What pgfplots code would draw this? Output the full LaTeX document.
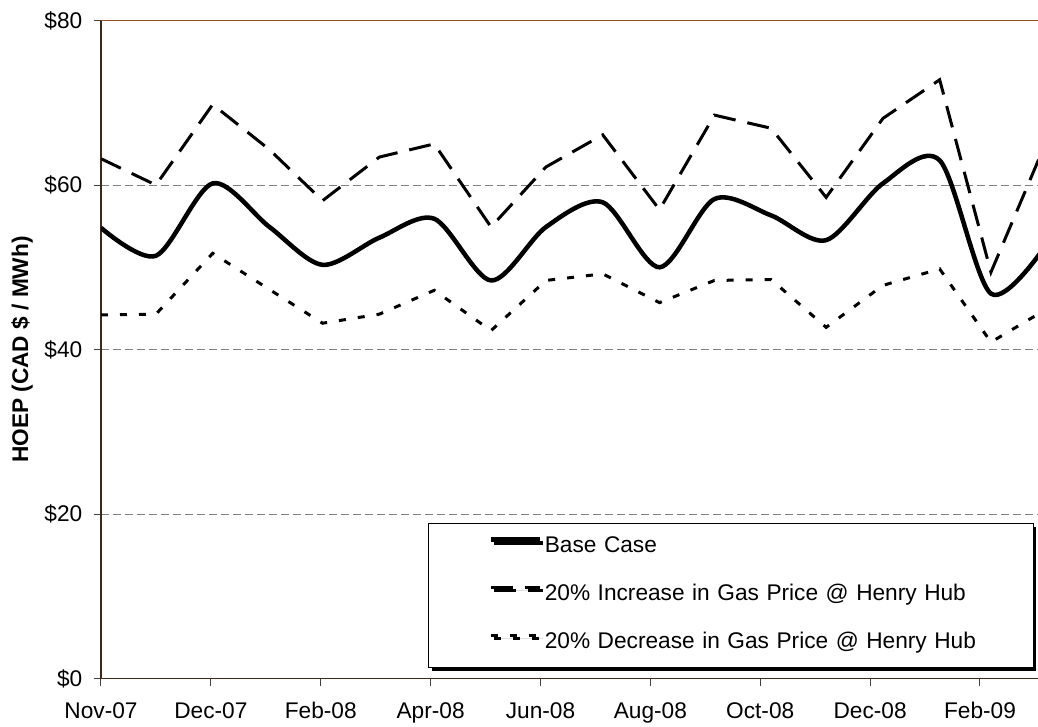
\documentclass[border=0pt]{standalone}
\usepackage{pgfplots}
\pgfplotsset{compat=1.18}
\usepackage{pgfplotstable}
\usepackage{fontspec}
\setmainfont{Liberation Sans}
\usetikzlibrary{shadows}
\definecolor{axbrown}{RGB}{64,40,24}
\definecolor{topbrown}{RGB}{150,80,30}
\definecolor{gridgray}{RGB}{128,128,128}

\pgfplotstableread{
day base up down
0   54.8 63.2 44.2
30  51.4 60.0 44.3
61  60.2 69.8 51.7
92  54.9 64.3 47.3
121 50.3 58.1 43.2
152 53.6 63.4 44.3
182 55.9 65.0 47.2
213 48.4 54.9 42.3
243 54.9 62.2 48.4
274 57.9 66.1 49.2
305 50.0 57.0 45.7
335 58.3 68.5 48.4
366 56.3 66.9 48.5
396 53.3 58.5 42.7
427 60.2 68.1 47.8
458 63.0 72.8 49.8
486 46.8 49.4 40.9
517 53.0 65.7 45.0
}\datatable

\begin{document}
\begin{tikzpicture}[font=\fontsize{17}{20}\selectfont]
\useasboundingbox (-75.75pt,-35.6pt) rectangle (702.75pt,508.9pt);
\begin{axis}[
  scale only axis, width=702.75pt, height=493.5pt,
  xmin=0, xmax=511.7, ymin=0, ymax=80,
  axis x line*=bottom, axis y line*=left,
  x axis line style={-, axbrown, line width=1.4pt},
  y axis line style={-, axbrown, line width=1.2pt},
  xtick={0,60,120,180,240,300,360,420,480},
  xticklabels={Nov-07,Dec-07,Feb-08,Apr-08,Jun-08,Aug-08,Oct-08,Dec-08,Feb-09},
  ytick={0,20,40,60,80},
  yticklabels={\$0,\$20,\$40,\$60,\$80},
  tick align=outside, major tick length=5.5pt,
  tick style={black!75, line width=0.75pt},
  xticklabel style={anchor=north, inner sep=0pt, text height=12.2pt, text depth=0pt, yshift=-12pt},
  yticklabel style={xshift=-5pt},
  ymajorgrids,
  major grid style={gridgray, line width=0.75pt, dash pattern=on 6pt off 3pt},
  ylabel={\bfseries HOEP (CAD \$ / MWh)},
  ylabel style={at={(axis description cs:-0.0843,0.5)}, anchor=center, rotate=0},
  legend style={at={(axis description cs:0.349,0.2363)}, anchor=north west,
    draw=black, fill=white, inner xsep=45pt, inner ysep=0pt, row sep=0pt, column sep=2.25pt,
    drop shadow={shadow xshift=2.6pt, shadow yshift=-2.6pt, fill=black, opacity=1},
    nodes={inner sep=0pt, text height=22pt, text depth=14pt},
    /tikz/every even column/.append style={text width=321pt}},
  legend cell align=left,
  legend image code/.code={\draw[#1] (0pt,6pt) -- (36.75pt,6pt);},
]
\addplot[black, line width=3.4pt, smooth] table[x=day, y=base] {\datatable};
\addlegendentry{\mbox{Base Case}}
\addplot[black, line width=2.25pt, dash pattern=on 16.5pt off 9pt] table[x=day, y=up] {\datatable};
\addlegendentry{\mbox{20\% Increase in Gas Price @ Henry Hub}}
\addplot[black, line width=2.25pt, dash pattern=on 5.25pt off 9pt] table[x=day, y=down] {\datatable};
\addlegendentry{\mbox{20\% Decrease in Gas Price @ Henry Hub}}
\end{axis}
\draw[topbrown, line width=0.9pt] (current axis.north west) -- (current axis.north east);
\end{tikzpicture}
\end{document}
